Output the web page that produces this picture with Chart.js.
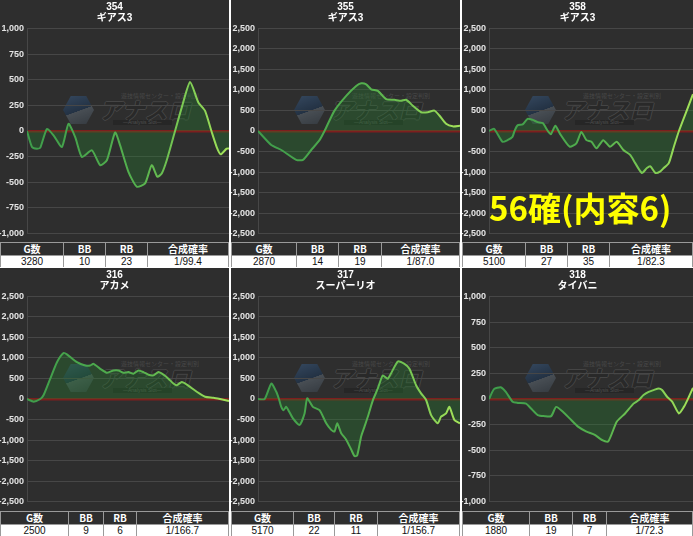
<!DOCTYPE html>
<html><head><meta charset="utf-8">
<script src="https://cdn.jsdelivr.net/npm/chart.js@4.4.1/dist/chart.umd.min.js"></script>
<style>
html,body{margin:0;padding:0;background:#fff;width:693px;height:536px;overflow:hidden;}
.panel{position:absolute;background:#2e2e2e;overflow:hidden;}
.ttl{position:absolute;left:0;right:0;top:1px;text-align:center;color:#fff;font:bold 10px/11px "Liberation Sans","Noto Sans CJK JP",sans-serif;z-index:3;}
.wm{position:absolute;left:63px;top:94px;width:150px;height:32px;z-index:1;opacity:.6;white-space:nowrap;}
.hex{position:absolute;left:0;top:2px;width:31px;height:28px;clip-path:polygon(25% 0,75% 0,100% 50%,75% 100%,25% 100%,0 50%);background:linear-gradient(160deg,#3a5a80 0%,#1d3553 52%,#5a646e 53%,#39424c 100%);}
.wmt{position:absolute;left:36px;top:3px;font:italic bold 23px/24px "Noto Sans CJK JP",sans-serif;color:#262626;letter-spacing:0px;white-space:nowrap;text-shadow:-1px 0 #555,1px 0 #555,0 -1px #555,0 1px #555;}
.wms{position:absolute;left:58px;top:-1px;font:6px/6px "Noto Sans CJK JP",sans-serif;color:#5a5a5a;white-space:nowrap;}
.wmb{position:absolute;left:50px;top:26px;font:5px/5px "Liberation Sans",sans-serif;color:#666;background:#222;padding:0 10px;white-space:nowrap;}
canvas{position:absolute;left:0;z-index:2;}
table{position:absolute;left:0;border-collapse:collapse;table-layout:fixed;z-index:3;}
th{background:#2e2e2e;color:#fff;border:1px solid #9a9a9a;height:12px;padding:0;font:bold 10px/12px "Noto Sans CJK JP","Liberation Sans",sans-serif;text-align:center;overflow:hidden;}
td{background:#fff;color:#111;border:1px solid #9a9a9a;height:11px;padding:0;font:10px/11px "Liberation Sans","Noto Sans CJK JP",sans-serif;text-align:center;overflow:hidden;}
.big{position:absolute;left:489px;top:189px;font:bold 33px/36px "Noto Sans CJK JP",sans-serif;color:#ffff00;z-index:5;white-space:nowrap;}
</style></head>
<body>
<div id="root"></div>
<div class="big">56確(内容6)</div>
<script>
// ---- data ----
const machineNumbers = ['354','355','358','316','317','318'];
const machineNames = ['ギアス3','ギアス3','ギアス3','アカメ','スーパーリオ','タイバニ'];
const gCounts = [3280,2870,5100,2500,5170,1880];
const bbCounts = [10,14,27,9,22,19];
const rbCounts = [23,19,35,6,11,7];
const rates = ['1/99.4','1/87.0','1/82.3','1/166.7','1/156.7','1/72.3'];
const tableHeaders = ['G数','BB','RB','合成確率'];
const yLimits = [1000,2500,2500,2500,2500,1000];
const yStepSizes = [250,500,500,500,500,250];

const games354 = [0,81,162,216,324,431,567,674,783,892,1054,1188,1297,1431,1512,1647,1783,1918,2026,2117,2188,2269,2404,2513,2648,2782,2890,2999,3080,3145,3242,3280];
const diff354  = [0,-156,-172,-162,20,-43,-156,70,-60,-253,-188,-333,-285,-15,-140,-398,-543,-510,-333,-446,-414,-285,0,230,478,278,198,-10,-156,-227,-172,-170];

const games355 = [0,189,331,543,639,756,874,945,1087,1253,1395,1466,1537,1608,1703,1821,1938,2033,2104,2200,2318,2412,2506,2577,2672,2767,2870];
const diff355  = [0,-343,-463,-703,-703,-463,-223,0,497,857,1097,1161,1137,1017,977,777,761,737,761,617,456,456,497,377,177,113,130];

const games358 = [0,126,335,461,587,638,713,839,965,1092,1218,1344,1470,1545,1659,1772,2017,2183,2309,2435,2561,2687,2856,3025,3192,3359,3529,3655,3822,3948,4034,4160,4286,4369,4495,4622,4748,4924,5100];
const diff358  = [0,57,-263,-223,-143,0,137,161,297,270,216,192,0,-80,130,-63,-383,-303,-24,-223,-263,-423,-223,-383,-263,-463,-583,-783,-1023,-903,-863,-1023,-983,-903,-783,-383,0,450,897];

const games316 = [0,82,164,206,288,371,452,494,618,721,782,823,906,989,1070,1132,1194,1256,1318,1379,1441,1503,1565,1627,1689,1750,1812,1854,1916,1978,2101,2204,2306,2389,2500];
const diff316  = [0,-64,0,96,496,896,1120,1088,896,816,816,856,736,640,696,696,640,656,616,696,656,592,576,656,592,496,376,336,416,352,176,56,32,0,-48];

const games317 = [0,170,341,468,536,596,655,724,894,1064,1192,1260,1405,1575,1746,1874,1959,2027,2129,2257,2385,2470,2538,2640,2726,2811,2939,3067,3194,3322,3578,3748,3876,4046,4174,4302,4430,4600,4685,4813,4898,5026,5170];
const diff317  = [0,0,376,176,0,-192,-272,-192,-472,-632,-352,16,-192,-272,-592,-752,-792,-592,-832,-992,-1232,-1392,-1376,-912,-672,-432,-32,256,576,496,912,856,736,336,136,-24,-392,-592,-432,-352,-192,-512,-592];

const games318 = [0,46,108,155,217,263,341,387,449,511,573,619,681,743,820,898,975,1037,1099,1177,1254,1332,1378,1424,1471,1517,1564,1595,1641,1688,1750,1796,1827,1880];
const diff318  = [0,96,115,70,-26,-38,-45,-93,-157,-167,-167,-77,-125,-189,-269,-317,-349,-397,-413,-221,-141,-45,-13,38,70,87,103,87,22,-26,-141,-77,-13,109];

const seriesGames = [games354,games355,games358,games316,games317,games318];
const seriesDiff = [diff354,diff355,diff358,diff316,diff317,diff318];
const colWidths = [[63,42,42],[65,42,43],[63,42,42],[68,35,33],[62,41,43],[67,43,34]];

// ---- layout ----
const panelBoxes = [[0,0,229,267],[231,0,229,267],[462,0,231,267],[0,268,229,268],[231,268,229,268],[462,268,231,268]];
const root = document.getElementById('root');
const FONT = '"Liberation Sans","Noto Sans CJK JP",sans-serif';

panelBoxes.forEach((b,i)=>{
  const p = document.createElement('div');
  p.className='panel';
  p.style.cssText=`left:${b[0]}px;top:${b[1]}px;width:${b[2]}px;height:${b[3]}px;`;
  const t = document.createElement('div');
  t.className='ttl';
  t.innerHTML = machineNumbers[i]+'<br>'+machineNames[i];
  p.appendChild(t);
  const wm = document.createElement('div');
  wm.className='wm';
  wm.innerHTML='<div class="hex"></div><div class="wms">遊技情報センター・設定判別</div><div class="wmt">アナスロ</div><div class="wmb">—Analysis Slot—</div>';
  p.appendChild(wm);
  const cv = document.createElement('canvas');
  cv.width=b[2]; cv.height=222;
  cv.style.top='20px'; cv.style.width=b[2]+'px'; cv.style.height='222px';
  p.appendChild(cv);
  const tb = document.createElement('table');
  tb.style.top = (i<3?242:243)+'px';
  tb.style.width = b[2]+'px';
  const cw = colWidths[i];
  let html = '<colgroup>'+cw.map(w=>`<col style="width:${w}px">`).join('')+'<col></colgroup>';
  html += '<tr>'+tableHeaders.map(h=>`<th>${h}</th>`).join('')+'</tr>';
  html += `<tr><td>${gCounts[i]}</td><td>${bbCounts[i]}</td><td>${rbCounts[i]}</td><td>${rates[i]}</td></tr>`;
  tb.innerHTML = html;
  p.appendChild(tb);
  root.appendChild(p);

  const M = yLimits[i];
  new Chart(cv.getContext('2d'), {
    type:'line',
    data:{datasets:[{
      data: seriesGames[i].map((g,k)=>({x:g,y:seriesDiff[i][k]})),
      borderColor: c=>{
        const a=c.chart.chartArea; if(!a) return '#4fb04d';
        const g=c.chart.ctx.createLinearGradient(a.left,0,a.right,0);
        g.addColorStop(0,'#3e9c4b'); g.addColorStop(0.55,'#55b14e'); g.addColorStop(1,'#a4e35a');
        return g;
      },
      backgroundColor:'rgba(38,130,48,0.32)',
      fill:'origin', borderWidth:2, pointRadius:0, tension:0.2
    }]},
    options:{
      responsive:false, animation:false,
      layout:{padding:{top:7,bottom:8,left:0,right:0}},
      plugins:{legend:{display:false},tooltip:{enabled:false},title:{display:false}},
      scales:{
        x:{type:'linear',display:false,min:0,max:gCounts[i]},
        y:{min:-M,max:M,
          ticks:{stepSize:yStepSizes[i],color:'#e4e4e4',padding:3,font:{size:9,weight:'bold',family:FONT},
                 callback:v=>Number(v).toLocaleString('en-US')},
          grid:{drawTicks:false,color:c=>c.tick&&c.tick.value===0?'#7e1e1e':'#474747',lineWidth:c=>c.tick&&c.tick.value===0?2.5:1},
          border:{display:true,color:'#474747'},
          afterFit:s=>{s.width=27;}
        }
      }
    }
  });
});
</script>
</body></html>
